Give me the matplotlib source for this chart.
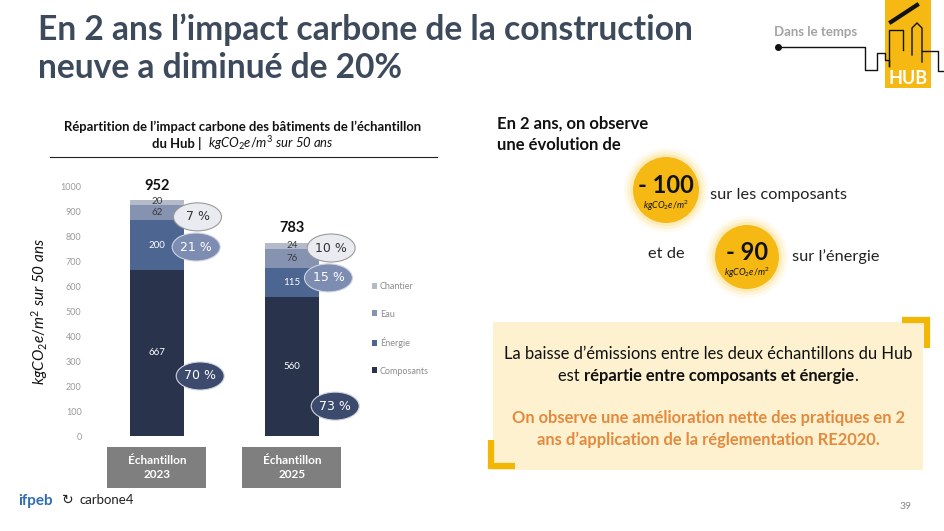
import matplotlib
matplotlib.use("Agg")
import matplotlib.pyplot as plt
from matplotlib.patches import Rectangle, Ellipse, Circle
import numpy as np

# ---------------- data ----------------
samples = ["Échantillon\n2023", "Échantillon\n2025"]
series = ["Composants", "Énergie", "Eau", "Chantier"]
composants = [667, 560]
energie = [200, 115]
eau = [62, 76]
chantier = [20, 24]
totals = [952, 783]
pct_composants = [70, 73]
pct_energie = [21, 15]
pct_eau_chantier = [7, 10]
yticks = [0, 100, 200, 300, 400, 500, 600, 700, 800, 900, 1000]
delta_composants = -100
delta_energie = -90
page_number = "39"

# ---------------- style ----------------
FONT = "Lato"
plt.rcParams["font.family"] = [FONT, "DejaVu Sans"]
plt.rcParams["mathtext.fontset"] = "custom"
plt.rcParams["mathtext.rm"] = FONT
plt.rcParams["mathtext.it"] = FONT + ":italic"
plt.rcParams["mathtext.bf"] = FONT + ":bold"

colors = ["#29334b", "#4c6691", "#8593b0", "#b3bbcb"]
W, H = 944, 531
fig = plt.figure(figsize=(W / 100, H / 100), dpi=100)
fig.patch.set_facecolor("white")

bg = fig.add_axes([0, 0, 1, 1])
bg.set_xlim(0, W)
bg.set_ylim(H, 0)
bg.axis("off")

# ---------------- chart axes ----------------
px0, px1 = 90, 370          # pixel extent of chart axes
py0, py1 = 187, 436         # pixel of 1000 and 0
c0, step = 157, 135          # first bar centre & spacing (px)
ax = fig.add_axes([px0 / W, (H - py1) / H, (px1 - px0) / W, (py1 - py0) / H])
ax.set_facecolor("none")
ax.set_ylim(0, 1000)
ax.set_xlim(-(c0 - px0) / step, (px1 - c0) / step)
x = np.arange(len(samples))
bw = 54 / step
bottom = np.zeros(len(samples))
handles = []
for vals, col, name in zip([composants, energie, eau, chantier], colors, series):
    b = ax.bar(x, vals, bw, bottom=bottom, color=col, label=name, zorder=2)
    handles.append(b)
    bottom = bottom + np.array(vals)

for sp in ax.spines.values():
    sp.set_visible(False)
ax.set_xticks([])
ax.set_yticks(yticks)
ax.tick_params(axis="y", length=0, labelsize=6.5, labelcolor="#9a9a9a", pad=6)

# value labels inside bars
for i in range(len(samples)):
    base = 0
    for vals, tc, key in zip([composants, energie, eau, chantier],
                             ["white", "white", "#3a3a3a", "#3a3a3a"], series):
        v = vals[i]
        ymid = base + v / 2
        if key == "Chantier":
            ymid = base + v / 2 + 4
        ax.text(x[i], ymid, f"{v}", ha="center", va="center", fontsize=7,
                color=tc, zorder=3)
        base += v
    ax.text(x[i], totals[i] + 25, f"{totals[i]}", ha="center", va="bottom",
            fontsize=10.5, fontweight="bold", color="#111111", clip_on=False)

# percentage bubbles
bubble_pos = [  # (dx, y) per sample for (eau+chantier, énergie, composants)
    [(0.30, 880), (0.29, 759), (0.32, 241)],
    [(0.29, 755), (0.27, 635), (0.32, 120)],
]
bubble_style = [("#e9ebf0", "#333333", "#9a9a9a"),
                ("#7d8db1", "white", "#cfd4de"),
                ("#3c4a6d", "white", "#cfd4de")]
for i in range(len(samples)):
    for (dx, yy), pct, (fc, tc, ec) in zip(bubble_pos[i],
                                           [pct_eau_chantier[i], pct_energie[i], pct_composants[i]],
                                           bubble_style):
        e = Ellipse((x[i] + dx, yy), 48 / step, 28 / 0.249, facecolor=fc,
                    edgecolor=ec, lw=0.8, zorder=4, clip_on=False)
        ax.add_patch(e)
        ax.text(x[i] + dx, yy, f"{pct} %", ha="center", va="center", fontsize=9,
                color=tc, zorder=5, family="DejaVu Sans")

leg = ax.legend(handles[::-1], series[::-1], loc="upper left",
                bbox_to_anchor=((372 - px0) / (px1 - px0), 1 - (282 - py0) / (py1 - py0)),
                frameon=False, fontsize=6.5, labelcolor="#8c8c8c", handlelength=0.6,
                handleheight=0.6, handletextpad=0.3, labelspacing=2.05,
                borderaxespad=0, borderpad=0)

ax.set_ylabel(r"$kgCO_2e/m^2$ sur 50 ans", fontsize=11, fontstyle="italic",
              color="#111111")
ax.yaxis.set_label_coords((50 - px0) / (px1 - px0), 0.5)

# category boxes
for i, lab in enumerate(samples):
    cx = c0 + step * i
    bg.add_patch(Rectangle((cx - 50, 447), 99, 41, facecolor="#7f7f7f", edgecolor="none"))
    bg.text(cx, 467.5, lab, ha="center", va="center", color="white", fontsize=8.5,
            fontweight="bold", linespacing=1.35)

# ---------------- texts ----------------
renderer = fig.canvas.get_renderer()


def rich(x0, y, parts, ha="center", **common):
    """parts: list of (text, kwargs). Laid out on one line in pixel coords."""
    objs = []
    widths = []
    for txt, kw in parts:
        kk = dict(common)
        kk.update(kw)
        t = bg.text(0, y, txt, ha="left", va="baseline", **kk)
        objs.append(t)
        widths.append(t.get_window_extent(renderer).width)
    total = sum(widths)
    start = x0 - total / 2 if ha == "center" else x0
    cur = start
    for t, w in zip(objs, widths):
        t.set_x(cur)
        cur += w
    return objs


# main title
bg.text(38, 40, "En 2 ans l’impact carbone de la construction", fontsize=24.2,
        fontweight="bold", color="#3d4a5c", va="baseline")
bg.text(38, 78, "neuve a diminué de 20%", fontsize=24.2, fontweight="bold",
        color="#3d4a5c", va="baseline")

# chart title
bg.text(243, 131, "Répartition de l’impact carbone des bâtiments de l’échantillon",
        ha="center", va="baseline", fontsize=9.4, fontweight="bold", color="#111111")
rich(243, 148, [("du Hub |  ", dict(fontweight="bold")),
                (r"$kgCO_2e/m^3$ sur 50 ans", dict(fontstyle="italic"))],
     fontsize=9.4, color="#111111")
bg.plot([50, 437], [157, 157], color="#222222", lw=0.8)

# right side
bg.text(497, 129, "En 2 ans, on observe", fontsize=12, fontweight="bold",
        color="#111111", va="baseline")
bg.text(497, 150, "une évolution de", fontsize=12, fontweight="bold",
        color="#111111", va="baseline")

for (cx, cy, r), val in zip([(666, 190, 33), (747, 257, 32)],
                            [delta_composants, delta_energie]):
    for k, a in zip([9, 6, 3], [0.10, 0.15, 0.25]):
        bg.add_patch(Circle((cx, cy), r + k, facecolor="#fbd35a", edgecolor="none", alpha=a))
    bg.add_patch(Circle((cx, cy), r, facecolor="#f6b913", edgecolor="none"))
    bg.text(cx, cy + 3, f"- {abs(val)}", ha="center", va="baseline", fontsize=17,
            fontweight="bold", color="#111111")
    bg.text(cx, cy + 19, r"$kgCO_2e/m^2$", ha="center", va="baseline", fontsize=6.5,
            fontstyle="italic", color="#111111")

bg.text(710, 199, "sur les composants", fontsize=11.8, color="#222222", va="baseline")
bg.text(648, 258, "et de", fontsize=11.8, color="#222222", va="baseline")
bg.text(792, 261, "sur l’énergie", fontsize=11.8, color="#222222", va="baseline")

# highlighted box
bg.add_patch(Rectangle((493, 322), 430, 148, facecolor="#fdf1cf", edgecolor="none"))
yel = "#f2b705"
bg.plot([902, 927, 927], [320, 320, 348], color=yel, lw=4.5, solid_capstyle="butt",
        solid_joinstyle="miter")
bg.plot([491, 491, 515], [440, 466, 466], color=yel, lw=4.5, solid_capstyle="butt",
        solid_joinstyle="miter")
bg.text(708, 359, "La baisse d’émissions entre les deux échantillons du Hub",
        ha="center", va="baseline", fontsize=11.9, color="#111111")
rich(708, 381, [("est ", {}), ("répartie entre composants et énergie", dict(fontweight="bold")),
                (".", {})], fontsize=11.9, color="#111111")
bg.text(708, 423, "On observe une amélioration nette des pratiques en 2",
        ha="center", va="baseline", fontsize=11.9, fontweight="bold", color="#e38a3f")
bg.text(708, 445, "ans d’application de la réglementation RE2020.",
        ha="center", va="baseline", fontsize=11.9, fontweight="bold", color="#e38a3f")

# header right: "Dans le temps" + HUB logo
bg.text(816, 36, "Dans le temps", ha="center", va="baseline", fontsize=9.5,
        fontweight="bold", color="#a3a3a3")
bg.add_patch(Rectangle((885, 0), 46, 88, facecolor="#f6b913", edgecolor="none"))
bg.plot([778, 865, 865, 877, 877, 885, 885, 889, 889], [47, 47, 70, 70, 53, 53, 60, 60, 66],
        color="#111111", lw=1)
bg.plot([889, 889, 903, 903], [66, 30, 30, 50], color="#111111", lw=1)
bg.plot([912, 912, 917, 922, 922], [55, 28, 23, 28, 62], color="#111111", lw=1)
bg.plot([922, 938, 938, 944], [51, 51, 71, 71], color="#111111", lw=1)
bg.plot([891, 917], [22, 5], color="#111111", lw=3)
bg.plot(778, 47, "o", color="#111111", ms=4)
bg.text(908, 84, "HUB", ha="center", va="baseline", fontsize=13, fontweight="bold",
        color="white")

# footer
bg.text(18, 505, "ifpeb", fontsize=11, fontweight="bold", color="#2f6db5", va="baseline")
bg.text(62, 504, "↻", fontsize=10, color="#222222", va="baseline", family="DejaVu Sans")
bg.text(80, 504, "carbone4", fontsize=9.5, color="#222222", va="baseline")
bg.text(906, 509, page_number, ha="center", va="baseline", fontsize=7.5, color="#8a8a8a")

fig.savefig("out.png", dpi=100, facecolor="white")
